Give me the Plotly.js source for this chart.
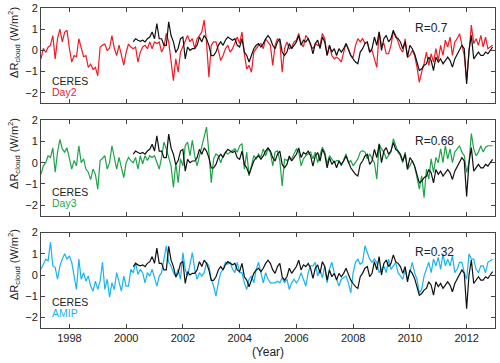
<!DOCTYPE html>
<html>
<head>
<meta charset="utf-8">
<script src="https://cdn.plot.ly/plotly-3.0.1.min.js"></script>
<style>
  body { margin: 0; background: #fff; }
  #chart { width: 500px; height: 363px; }
</style>
</head>
<body>
<div id="chart"></div>
<script>
    // Monthly anomalies, Jan 1997 - Dec 2012 for the models, Apr 2000 on for CERES
    const modelStart = 1997;
    const ceresStart = 2000 + 3 / 12;
    const xTicks = [1998, 2000, 2002, 2004, 2006, 2008, 2010, 2012];
    const yTicks = [-2, -1, 0, 1, 2];
    const corrLabels = ['R=0.7', 'R=0.68', 'R=0.32'];
    const modelNames = ['Day2', 'Day3', 'AMIP'];

    const day2 = [
        -0.4, 0.1, -0.1, 0.15, 0.25, 0.7, -0.4, 0.55, 1.0, 0.4, 0.85, 0.95,
        0.1, -0.55, -0.25, -0.3, 0.55, 0.1, -0.3, -0.25, -0.8, -0.65, -0.9, -0.8,
        -1.2, 0.15, 0.25, 0.3, 0.0, 0.1, 0.7, 0.1, -0.25, 0.25, -0.25, -0.7,
        -0.1, 0.3,
        0.16, 0.08, 0.16, -0.55, -0.08, 0.16, 0.24, 0.08, 0.4, 0.08, 0.4, 0.32, 0.4, -0.08, 0.16, 0.8, 0.4, -0.47, -1.43, -0.4,
        -1.03, -0.08, 0.16, 0.4, 0.7, 0.4, 0.55, 0.08, 0.55, 0.7, 0.87, 1.43, 0.4, -1.27, 0.24, 0.4, 0.4, 0.0,
        -0.48, -0.24, 0.08, 0.24, -0.08, 0.08, 0.4, 0.63, 0.32, 0.87, -0.16, -0.87, -0.71, -1.03, -0.08, 0.08, 0.24, 0.32, 0.08, 0.55,
        0.4, 0.24, -0.71, 0.24, 0.55, 0.4, -1.03, 0.08, 0.4, 0.08, 0.16, 0.4, 0.48, 0.8, 0.32, 0.16, 0.71, 0.55, 0.24,
        0.08, 0.32, 0.24, 0.24, 0.8, 0.55, -0.24, 0.24, -0.24, -0.4, -0.32, -0.4, -0.55, -0.08, 0.32, 0.08, -0.24, -0.32, 0.24, 0.55,
        0.4, 0.55, 0.32, 0.4, -0.08, 0.0, -0.4, -0.8, 0.87, 0.24, 0.32, -0.16, -0.16, 0.24, 0.87, 0.71, 0.4, 0.08,
        -0.08, 0.55, -0.32, -0.24, 0.0, -0.24, -0.79, -1.51, -1.03, -0.63, -0.08, -0.71, -0.16, -0.55, 0.08, -0.48, 0.24, -0.24, 0.48, 0.16,
        0.63, -0.24, 0.4, 0.55, 0.79, 0.24, -0.24, -1.43, -0.16, 1.19, 0.32, 0.55, 0.24, 0.71, 0.16, 0.63, 0.08, 0.16, 0.24
    ];

    const day3 = [
        -0.55, -0.15, 0, 0.33, 0.25, 0.7, -0.45, 0.5, 1.1, 0.65, 0.5, 0.7,
        0.2, -0.3, 0.1, -0.15, 0.8, 0.0, 0.18, -0.3, -0.45, -0.8, -0.3, -0.55,
        -1.25, 0.1, 0.2, 0.33, -0.3, 0.0, 0.8, 0.18, -0.3, 0.25, -0.3, -0.7,
        0.0, 0.25,
        0.1, 0, 0.25, -0.3, 0.33, -0.05, 0.33, 0.1, 0.33, 0.25, 0.33, 0.0, -0.3, 0.25, 0.97, 0.65, 0.18, -0.15, -1.17, 0.0,
        -0.94, 0.18, -0.15, 0.8, 0.97, 0.33, 1.05, 0.33, -0.15, 0.33, 0.8, 1.2, 1.68, 0.5, -0.94, 0.18, 0.41, 0.33,
        0, 0.33, 0.5, 0.41, 0.5, 0.57, 0.65, 0.5, 0.8, 0.9, -0.3, 0.5, -0.62, -0.15, 0.33, 0.18, 0.41, 0.25, 0.65, 0.33,
        0.65, 0.5, -0.15, 0.5, 0.57, 0.1, -1.1, 0.18, 0.1, 0.18, 0.18, 0.41, 0.65, 0.5, -0.15, 0.18, 0.33, 0.41, 0.5,
        0.18, 0.5, 0.0, 0.33, 0.73, 0.5, -0.06, 0.33, 0.18, 0.0, 0.1, 0.1, -0.15, 0.18, 0.41, 0.0, 0.1, -0.15, 0.0, 0.18,
        0.5, 0.57, 0.5, 0.18, 0.41, 0.18, 0.0, -0.78, 0.9, 0.65, 0.5, 0.18, 0.33, 0.5, 1.13, 0.8, 0.5, 0.33,
        0.0, 0.5, -0.3, -0.15, 0.1, -0.15, -0.78, -1.25, -0.62, -1.65, -0.3, -0.78, 0.18, -0.46, 0.25, 0.0, 0.65, 0.0, 0.8, 0.18,
        0.65, 0.0, 0.5, 0.65, 0.8, 0.5, 0.33, -0.46, 0.0, 1.37, 0.65, 0.33, 0.5, 0.8, 0.5, 0.73, 0.8, 0.8, 0.8
    ];

    const amip = [
        0.27, 0.5, 0.75, 0.67, 1.55, 0.43, 0.35, -0.2, 0.43, 0.75, 1.0, 0.75,
        0.9, 0.6, 0.0, -0.68, 0.75, -0.2, 0.11, -0.29, -0.05, -0.52, -0.76, -0.29,
        -0.68, -0.29, 0.6, -0.68, -0.2, -1.05, -0.37, -0.68, 0.11, -0.29, -0.76, -0.05,
        -0.52, -0.52,
        0.27, 0.1, 0.6, 0.03, 0.27, 0.11, -0.37, 0.11, -0.05, 0.27, -0.2, -0.52, -0.05, 0.11, 0.75, 1.38, 0.6, 0.43, 0.11, -0.05,
        0.27, -0.2, 1.06, 0.27, -0.05, 0.6, 1.06, 0.27, -0.2, 0.11, -0.05, 0.11, 0.6, 0.43, -0.2, -0.52, -1.0, -0.37,
        0.11, 0.27, 0.6, 0.51, 0.6, 0.27, 0.11, 0.6, 0.11, 0.11, -0.37, -0.68, -0.2, -0.05, -0.37, 0.27, 0.6, 0.11, -0.37, 0.11,
        -0.2, -0.37, -0.37, -0.37, -0.29, -0.37, -0.13, -0.37, -0.2, -0.68, -0.37, -0.2, -0.37, -0.2, 0.11, -0.2, -0.52, 0.11, 0.43,
        0.43, 0.6, -0.05, 0.27, -0.13, 0.43, -0.37, 0.27, 0.6, 0.11, -0.2, -0.52, -0.2, -0.13, -0.05, -0.37, -0.84, 0.11, 0.6, 0.75,
        0.51, 0.6, 1.38, 1.06, 0.75, 0.6, 0.75, 0.6, 0.11, 0.27, 0.43, 0.11, 0.75, 0.27, 0.43, 0.6, 0.11, -0.05,
        -0.2, 0.27, -0.2, 0.11, 0.6, 0.11, -0.2, -0.84, -0.68, -0.05, 0.27, 0.6, 0.11, 0.75, 0.43, 0.83, 0.27, 1.0, 0.43, 0.75,
        0.43, 0.9, 0.11, 0.27, 0.6, 0.6, 0.11, -0.2, 1.0, 0.75, 0.75, 0.27, 0.11, 0.43, 0.43, 0.11, 0.6, 0.67, 0.75
    ];

    const ceres = [
        0.4, 0.55, 0.48, 0.43, 0.48, 0.4, 0.55, 0.63, 0.87,
        0.55, 1.27, 0.55, 0.55, 0.24, 0.24, 1.35, 0.7, 0.4, -0.1, 0.1, 0.55,
        0.63, -0.4, 0.16, 0.0, 0.08, 0.08, 0.24, 0.63, 0.4, 0.7, 0.55, 0.24,
        -0.25, -0.25, -0.08, 0.24,
        0.4, 0.24, 0.48, 0.63, 0.55, 0.48, 0.55, 0.24, 0.16, 0.55, -0.08, -0.24, -0.55, -0.24, 0.08, 0.24, 0.32, 0.16, 0.32, 0.55,
        0.7, 0.55, 0.24, 0.08, 0.4, 0.55, -0.08, -0.24, -0.08, 0.32, 0.08, 0.24, 0.4, 0.7, 0.24, 0.48, 0.4, 0.55, 0.32,
        -0.16, 0.32, 0.48, 0.08, 0.63, 0.4, -0.24, 0.24, -0.08, 0.08, -0.24, 0.08, -0.08, 0.08, 0.32, 0.0, -0.24, -0.4, -0.55, -0.63,
        -0.08, 0.08, 0.32, 0.4, -0.08, 0.08, 0.63, 0.24, 0.87, 0.0, 0.55, 0.71, 0.4, 0.55, 0.95, 0.63, 0.55, 0.4,
        0.08, 0.4, -0.32, 0.24, 0.08, -0.16, -0.55, -0.95, -0.87, -0.71, -0.63, -0.32, -0.48, -0.95, -0.32, -0.55, -0.4, -0.63, -0.48, -0.32,
        -0.48, -0.79, -0.4, -0.16, 0.0, 0.24, 0.08, -1.59, 0.0, 0.71, -0.4, -0.24, -0.08, -0.24, -0.24, -0.08, -0.16, 0.0, 0.16
    ];

    const modelData = [day2, day3, amip];
    const modelColors = ['#ee1c25', '#1fa34a', '#1ab2ef'];

    function monthAxis(start, n) {
        const x = [];
        for (let i = 0; i < n; i++) x.push(start + i / 12);
        return x;
    }

    const font = 'Liberation Sans, Arial, sans-serif';
    const traces = [];
    const layout = {
        width: 500,
        height: 363,
        margin: { l: 41, r: 5, t: 8, b: 35 },
        paper_bgcolor: '#fff',
        plot_bgcolor: '#fff',
        showlegend: false,
        font: { family: font, size: 11, color: '#222' },
        annotations: []
    };

    // panel domains, top to bottom
    const domains = [[0.702, 1.0], [0.351, 0.649], [0.0, 0.298]];
    const legendY = [[0.772, 0.739], [0.425, 0.391], [0.081, 0.047]];
    const corrY = [0.9375, 0.584, 0.2375];
    const labelY = [0.894, 0.547, 0.2];

    modelData.forEach(function (vals, k) {
        const sfx = k === 0 ? '' : String(k + 1);
        traces.push({
            x: monthAxis(modelStart, vals.length),
            y: vals,
            xaxis: 'x' + sfx,
            yaxis: 'y' + sfx,
            type: 'scatter',
            mode: 'lines',
            line: { color: modelColors[k], width: 1.2 },
            name: modelNames[k]
        });
        traces.push({
            x: monthAxis(ceresStart, ceres.length),
            y: ceres,
            xaxis: 'x' + sfx,
            yaxis: 'y' + sfx,
            type: 'scatter',
            mode: 'lines',
            line: { color: '#111', width: 1.2 },
            name: 'CERES'
        });

        layout['xaxis' + sfx] = {
            domain: [0, 1],
            anchor: 'y' + sfx,
            range: [1997, 2013],
            tickvals: xTicks,
            ticks: 'inside',
            ticklen: 4,
            tickcolor: '#444',
            showline: true,
            linecolor: '#444',
            linewidth: 1,
            mirror: 'ticks',
            showgrid: false,
            zeroline: false,
            showticklabels: k === 2,
            tickfont: { family: font, size: 11, color: '#222' }
        };
        if (k === 2) {
            layout['xaxis' + sfx].title = { text: '(Year)', font: { family: font, size: 12, color: '#222' }, standoff: 4 };
        }
        layout['yaxis' + sfx] = {
            domain: domains[k],
            anchor: 'x' + sfx,
            range: [-2.5, 2],
            tickvals: yTicks,
            ticks: 'inside',
            ticklen: 4,
            tickcolor: '#444',
            showline: true,
            linecolor: '#444',
            linewidth: 1,
            mirror: 'ticks',
            showgrid: false,
            zeroline: false,
            tickfont: { family: font, size: 11, color: '#222' }
        };

        layout.annotations.push(
            { xref: 'paper', yref: 'paper', x: 0.02, y: legendY[k][0], xanchor: 'left', yanchor: 'middle',
              text: 'CERES', showarrow: false, font: { family: font, size: 10.5, color: '#222' } },
            { xref: 'paper', yref: 'paper', x: 0.02, y: legendY[k][1], xanchor: 'left', yanchor: 'middle',
              text: modelNames[k], showarrow: false, font: { family: font, size: 10.5, color: modelColors[k] } },
            { xref: 'paper', yref: 'paper', x: 0.819, y: corrY[k], xanchor: 'left', yanchor: 'middle',
              text: corrLabels[k], showarrow: false, font: { family: font, size: 12, color: '#222' } },
            { xref: 'paper', yref: 'paper', x: -0.0595, y: labelY[k], xanchor: 'center', yanchor: 'middle',
              textangle: -90, text: '\u0394R<sub>cloud</sub> (W/m<sup>2</sup>)', showarrow: false,
              font: { family: font, size: 11, color: '#222' } }
        );
    });

    Plotly.newPlot('chart', traces, layout, { staticPlot: true, displayModeBar: false });
</script>
</body>
</html>
